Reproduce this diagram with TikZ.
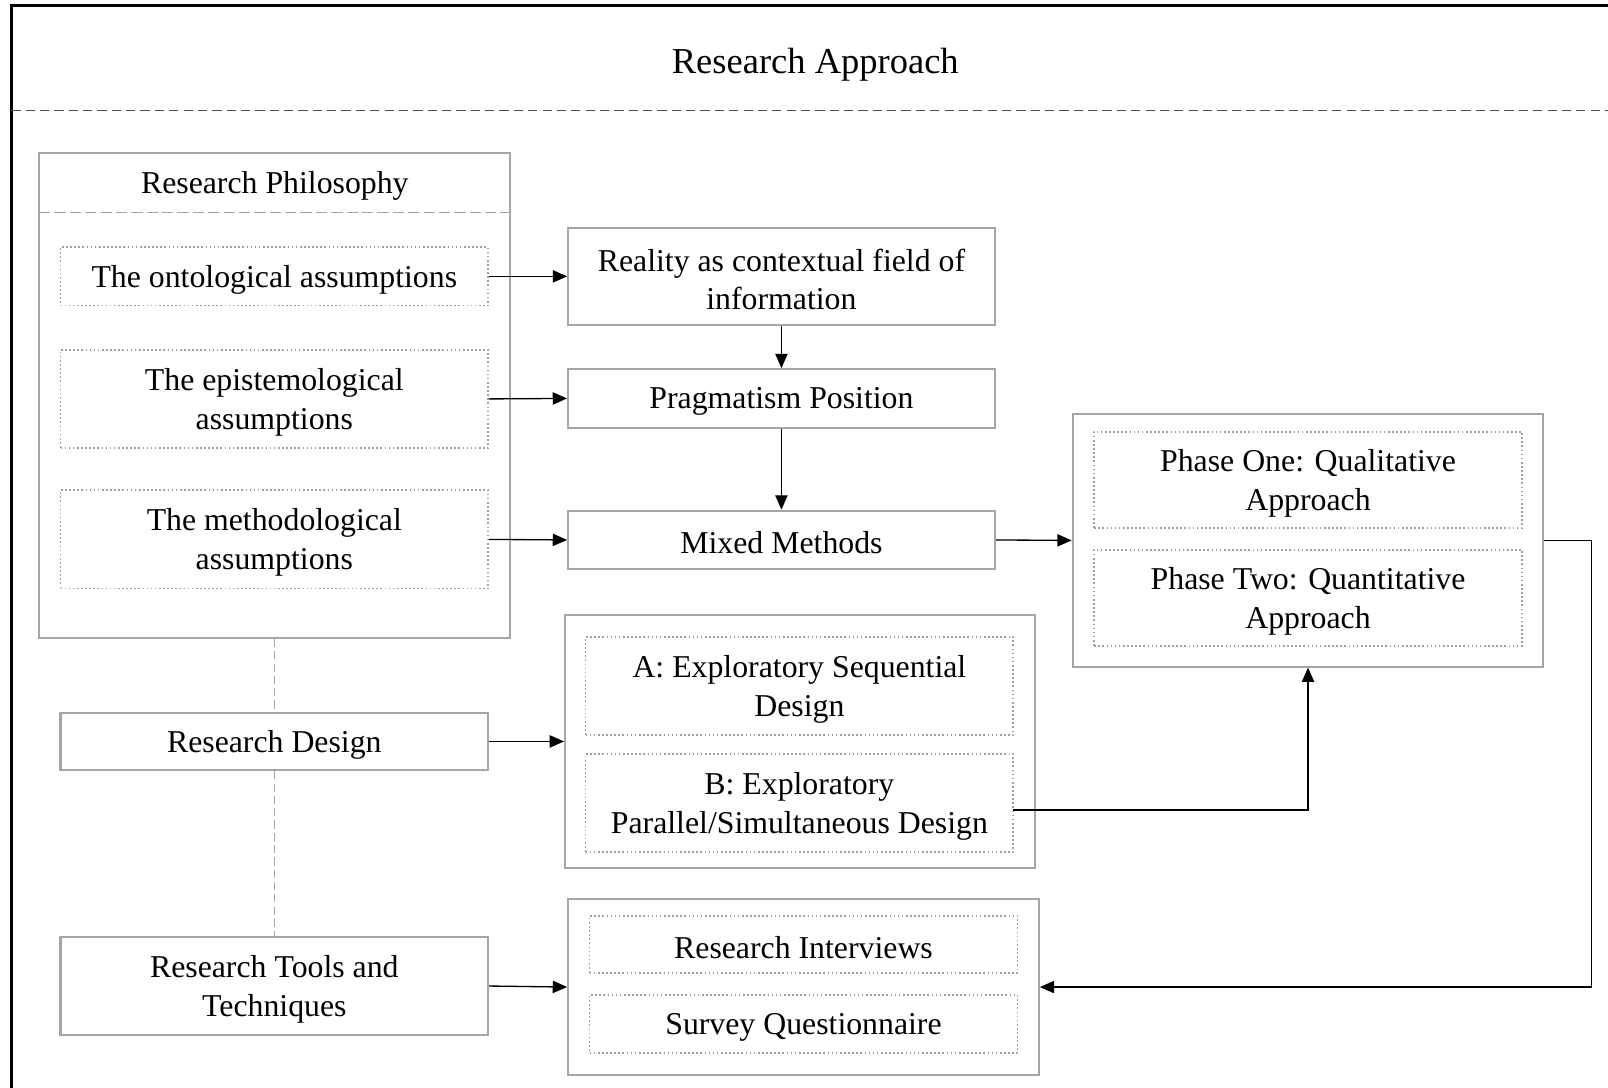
\documentclass[tikz,border=0pt]{standalone}
\usepackage{fontspec}
\setmainfont{Liberation Serif}
\usetikzlibrary{arrows.meta,fit}

\definecolor{boxgray}{HTML}{A6A6A6}
\definecolor{dotgray}{HTML}{A0A0A0}
\definecolor{rulegray}{HTML}{505050}

\begin{document}
\begin{tikzpicture}[x=0.5pt,y=-0.5pt,
  font=\fontsize{15.5}{19}\selectfont,
  frame/.style={draw=boxgray, line width=1pt, inner sep=0pt},
  inner/.style={draw=dotgray, line width=0.8pt, dash pattern=on 0.8pt off 1.2pt, inner sep=0pt},
  caption/.style={inner sep=0pt, align=center, yshift=-1.5pt},
  link/.style={draw=black, line width=0.65pt, -{Triangle[length=7pt,width=6pt]}},
  guide/.style={draw=boxgray, line width=0.5pt, dash pattern=on 4pt off 2pt},
]
\useasboundingbox (0,0) rectangle (1568,1060);

% outer frame (runs off the page at right and bottom)
\begin{scope}
\clip (0,0) rectangle (1568,1060);
\draw[line width=1.4pt] (11,1100) -- (11,5) -- (1600,5);
\draw[rulegray, line width=0.6pt, dash pattern=on 4.5pt off 2.5pt] (11,108) -- (1568,108);
\end{scope}
\node[caption, font=\fontsize{17.8}{21}\selectfont] (title) at (795,60) {Research Approach};

% research philosophy group
\node[frame, fit={(38,149) (497,622)}] (phil) {};
\node[caption] (philhead) at (268,178) {Research Philosophy};
\draw[boxgray, line width=0.6pt, dash pattern=on 5.5pt off 2pt] (38,207) -- (497,207);
\node[inner, fit={(59,241) (476,298)}] (onto) {};
\node[caption] (ontoT) at (onto.center) {The ontological assumptions};
\node[inner, fit={(59,341) (476,437)}] (epis) {};
\node[caption] (episT) at (epis.center) {The epistemological\\assumptions};
\node[inner, fit={(59,478) (476,574)}] (meth) {};
\node[caption] (methT) at (meth.center) {The methodological\\assumptions};

% central column
\node[frame, fit={(554,222) (970,317)}] (real) {};
\node[caption] (realT) at (real.center) {Reality as contextual field of\\information};
\node[frame, fit={(554,360) (970,417)}] (prag) {};
\node[caption] (pragT) at (prag.center) {Pragmatism Position};
\node[frame, fit={(554,498) (970,555)}] (mixed) {};
\node[caption] (mixedT) at (mixed.center) {Mixed Methods};

% phases
\node[frame, fit={(1046,404) (1505,650)}] (phase) {};
\node[inner, fit={(1067,421) (1484,515)}] (one) {};
\node[caption] (oneT) at (one.center) {Phase One: Qualitative\\Approach};
\node[inner, fit={(1067,536) (1484,630)}] (two) {};
\node[caption] (twoT) at (two.center) {Phase Two: Quantitative\\Approach};

% research design
\node[frame, fit={(59,695) (476,751)}] (design) {};
\node[caption] (designT) at (design.center) {Research Design};
\node[frame, fit={(551,600) (1009,846)}] (dgroup) {};
\node[inner, fit={(571,621) (988,717)}] (dA) {};
\node[caption] (dAT) at (dA.center) {A: Exploratory Sequential\\Design};
\node[inner, fit={(571,735) (988,831)}] (dB) {};
\node[caption] (dBT) at (dB.center) {B: Exploratory\\Parallel/Simultaneous Design};

% research tools
\node[frame, fit={(59,914) (476,1009)}] (rtools) {};
\node[caption] (rtoolsT) at (rtools.center) {Research Tools and\\Techniques};
\node[frame, fit={(554,877) (1013,1048)}] (tgroup) {};
\node[inner, fit={(575,893) (992,949)}] (interv) {};
\node[caption] (intervT) at (interv.center) {Research Interviews};
\node[inner, fit={(575,970) (992,1027)}] (survey) {};
\node[caption] (surveyT) at (survey.center) {Survey Questionnaire};

% guides on the left column
\draw[guide] (phil.south) -- (design.north);
\draw[guide] (design.south) -- (rtools.north);

% connectors
\draw[link] (onto.east) -- (real.west);
\draw[link] (epis.east) -- (prag.west);
\draw[link] (meth.east) -- (mixed.west);
\draw[link] (real.south) -- (prag.north);
\draw[link] (prag.south) -- (mixed.north);
\draw[link] (mixed.east) -- (phase.west);
\draw[link] (design.east) -- (dgroup.west);
\draw[link] (rtools.east) -- (tgroup.west);
\coordinate (bout) at (988,790);
\draw[link] (bout) -| (phase.south);
\coordinate (turn) at (1552,527);
\draw[link] (phase.east) -- (turn) |- (tgroup.east);
\end{tikzpicture}
\end{document}
